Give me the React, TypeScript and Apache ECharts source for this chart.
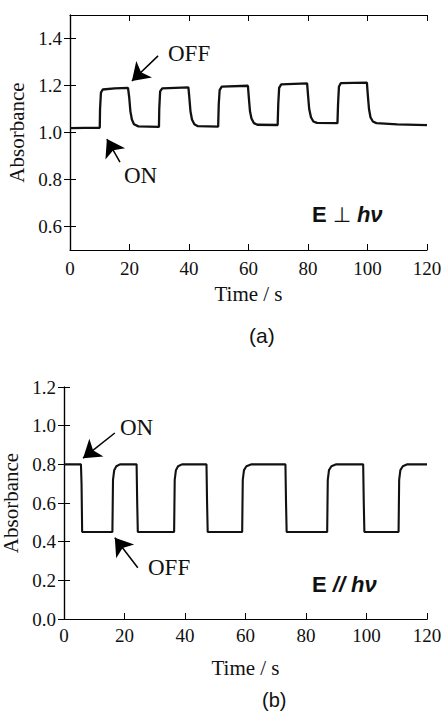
import React, { useEffect, useRef } from "react";
import * as echarts from "echarts";

// ---- Panel (a): E ⊥ hν ----
const timeA = [
  0, 5, 10.0, 10.1, 10.4, 11, 15, 19.5, 19.9, 20.3, 20.8, 21.5, 23, 29.9,
  30.0, 30.3, 31, 39.8, 40.1, 40.5, 41, 41.8, 43, 49.8,
  50.0, 50.3, 51, 59.8, 60.1, 60.5, 61, 61.8, 63, 69.8,
  70.0, 70.3, 71, 79.7, 80.0, 80.4, 81, 81.8, 83, 89.9,
  90.1, 90.4, 91, 99.8, 100.1, 100.5, 101, 101.8, 103, 110, 120,
];
const absA = [
  1.019, 1.02, 1.02, 1.1, 1.17, 1.183, 1.188, 1.19, 1.15, 1.09, 1.055, 1.035, 1.026, 1.024,
  1.1, 1.175, 1.188, 1.192, 1.15, 1.09, 1.055, 1.035, 1.027, 1.025,
  1.12, 1.18, 1.195, 1.199, 1.15, 1.09, 1.06, 1.04, 1.033, 1.032,
  1.12, 1.19, 1.205, 1.209, 1.16, 1.1, 1.065, 1.047, 1.041, 1.04,
  1.12, 1.195, 1.21, 1.212, 1.16, 1.1, 1.065, 1.047, 1.04, 1.035, 1.031,
];
const yTicksA = [0.6, 0.8, 1.0, 1.2, 1.4];

// ---- Panel (b): E // hν ----
const timeB = [
  0, 5.6, 5.8, 6.0, 16.0, 16.2, 16.6, 17.3, 18.5, 24.0, 24.2, 24.4,
  36.4, 36.6, 37.0, 37.7, 39, 47.1, 47.3, 47.5,
  58.9, 59.1, 59.5, 60.3, 62, 73.2, 73.4, 73.6,
  87.0, 87.2, 87.6, 88.4, 90, 98.9, 99.1, 99.3,
  110.6, 110.8, 111.2, 112, 113.5, 120,
];
const absB = [
  0.8, 0.8, 0.7, 0.45, 0.45, 0.72, 0.77, 0.79, 0.8, 0.8, 0.6, 0.45,
  0.45, 0.72, 0.77, 0.79, 0.8, 0.8, 0.6, 0.45,
  0.45, 0.72, 0.77, 0.79, 0.8, 0.8, 0.6, 0.45,
  0.45, 0.72, 0.77, 0.79, 0.8, 0.8, 0.6, 0.45,
  0.45, 0.72, 0.77, 0.79, 0.8, 0.8,
];

// Annotation arrows (data coordinates: [time, absorbance])
const arrowOffA = [[29.6, 1.326], [20.8, 1.219]];
const arrowOnA = [[16.8, 0.874], [12.4, 0.972]];
const arrowOnB = [[16.8, 0.962], [6.3, 0.832]];
const arrowOffB = [[24.4, 0.265], [16.8, 0.42]];

const SERIF = "'Liberation Serif', 'Times New Roman', serif";
const SANS = "'Liberation Sans', 'DejaVu Sans', Arial, sans-serif";

function pairs(t: number[], v: number[]) {
  return t.map((x, i) => [x, v[i]]);
}

export default function App() {
  const ref = useRef<HTMLDivElement>(null);
  useEffect(() => {
    if (!ref.current) return;
    const chart = echarts.init(ref.current, null, { renderer: "svg" });
    const axisLine = { show: true, lineStyle: { color: "#000", width: 1.2 } };
    const tick = { show: true, inside: true, length: 6, lineStyle: { color: "#000", width: 1 } };
    const lbl = { color: "#111", fontFamily: SERIF, fontSize: 19, margin: 8 };
    const nameStyle = { color: "#111", fontFamily: SERIF, fontSize: 21 };
    const arrowLine = (a: number[][]) => [{ coord: a[0] }, { coord: a[1] }];
    const mk = (arrows: number[][][]) => ({
      silent: true,
      symbol: ["none", "arrow"],
      symbolSize: 17,
      lineStyle: { color: "#000", width: 1.5, type: "solid" },
      itemStyle: { color: "#000" },
      label: { show: false },
      emphasis: { disabled: true },
      data: arrows.map(arrowLine),
    });

    chart.setOption({
      animation: false,
      backgroundColor: "#fff",
      grid: [
        { left: 70, top: 15, width: 357, height: 235, outerBoundsMode: "none", containLabel: false },
        { left: 64, top: 387, width: 363, height: 232, outerBoundsMode: "none", containLabel: false },
      ],
      xAxis: [
        {
          gridIndex: 0, type: "value", min: 0, max: 120, interval: 20,
          axisLine, axisTick: tick, splitLine: { show: false },
          axisLabel: { ...lbl, margin: 9 },
          name: "Time / s", nameLocation: "middle", nameGap: 33, nameTextStyle: nameStyle,
        },
        {
          gridIndex: 0, type: "value", position: "top", min: 0, max: 120, interval: 20,
          axisLine, axisTick: tick, axisLabel: { show: false }, splitLine: { show: false },
        },
        {
          gridIndex: 1, type: "value", min: 0, max: 120, interval: 20,
          axisLine, axisTick: tick, splitLine: { show: false },
          axisLabel: { ...lbl, margin: 7 },
          name: "Time / s", nameLocation: "middle", nameGap: 38, nameTextStyle: nameStyle,
        },
        {
          gridIndex: 1, type: "value", position: "top", min: 0, max: 120, interval: 20,
          axisLine, axisTick: { show: false }, axisLabel: { show: false }, splitLine: { show: false },
        },
      ],
      yAxis: [
        {
          gridIndex: 0, type: "value", min: 0.5, max: 1.5, interval: 0.1,
          axisLine, axisTick: { ...tick, customValues: yTicksA }, splitLine: { show: false },
          axisLabel: { ...lbl, customValues: yTicksA, formatter: (v: number) => v.toFixed(1) },
          name: "Absorbance", nameLocation: "middle", nameGap: 41, nameTextStyle: nameStyle,
        },
        {
          gridIndex: 0, type: "value", position: "right", min: 0.5, max: 1.5, interval: 0.1,
          axisLine, axisTick: { ...tick, customValues: yTicksA },
          axisLabel: { show: false, customValues: yTicksA }, splitLine: { show: false },
        },
        {
          gridIndex: 1, type: "value", min: 0, max: 1.2, interval: 0.2,
          axisLine, axisTick: tick, splitLine: { show: false },
          axisLabel: { ...lbl, formatter: (v: number) => v.toFixed(1) },
          name: "Absorbance", nameLocation: "middle", nameGap: 42, nameTextStyle: nameStyle,
        },
        {
          gridIndex: 1, type: "value", position: "right", min: 0, max: 1.2, interval: 0.2,
          axisLine, axisTick: tick, axisLabel: { show: false }, splitLine: { show: false },
        },
      ],
      series: [
        {
          type: "line", xAxisIndex: 0, yAxisIndex: 0, data: pairs(timeA, absA),
          showSymbol: false, lineStyle: { color: "#111", width: 2.3 }, silent: true,
          markLine: mk([arrowOffA, arrowOnA]),
        },
        {
          type: "line", xAxisIndex: 2, yAxisIndex: 2, data: pairs(timeB, absB),
          showSymbol: false, lineStyle: { color: "#111", width: 2.1 }, silent: true,
          markLine: mk([arrowOnB, arrowOffB]),
        },
      ],
      graphic: [
        { type: "text", left: 168, top: 42, style: { text: "OFF", font: `23px ${SERIF}`, fill: "#111" } },
        { type: "text", left: 124, top: 164, style: { text: "ON", font: `23px ${SERIF}`, fill: "#111" } },
        { type: "text", left: 120, top: 416, style: { text: "ON", font: `23px ${SERIF}`, fill: "#111" } },
        { type: "text", left: 148, top: 556, style: { text: "OFF", font: `23px ${SERIF}`, fill: "#111" } },
        {
          type: "text", left: 312, top: 203,
          style: {
            text: "{b|E }{n|⊥ }{i|hν}",
            rich: {
              b: { fontFamily: SANS, fontWeight: "bold", fontSize: 22, fill: "#111" },
              n: { fontFamily: SANS, fontSize: 21, fill: "#111" },
              i: { fontFamily: SANS, fontWeight: "bold", fontStyle: "italic", fontSize: 22, fill: "#111" },
            },
          },
        },
        {
          type: "text", left: 312, top: 573,
          style: {
            text: "{b|E }{i|// hν}",
            rich: {
              b: { fontFamily: SANS, fontWeight: "bold", fontSize: 22, fill: "#111" },
              i: { fontFamily: SANS, fontWeight: "bold", fontStyle: "italic", fontSize: 22, fill: "#111" },
            },
          },
        },
        { type: "text", left: 249, top: 325, style: { text: "(a)", font: `21px ${SANS}`, fill: "#111" } },
        { type: "text", left: 262, top: 690, style: { text: "(b)", font: `20px ${SANS}`, fill: "#111" } },
      ],
    });
    return () => chart.dispose();
  }, []);
  return (
    <div
      ref={ref}
      style={{ position: "fixed", left: 0, top: 0, width: 444, height: 712, background: "#fff" }}
    />
  );
}
